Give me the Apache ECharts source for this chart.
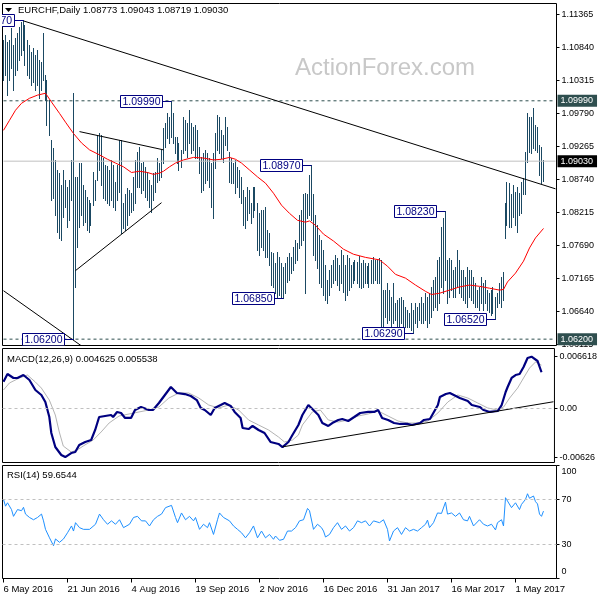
<!DOCTYPE html>
<html><head><meta charset="utf-8">
<script src="https://cdn.jsdelivr.net/npm/echarts@6/dist/echarts.min.js"></script>
<style>html,body{margin:0;padding:0;background:#fff}#c{width:600px;height:600px}</style>
</head><body><div id="c"></div>
<script>
const FONT = '"Liberation Sans", Arial, sans-serif';
// ---- data ----
const high = [
1.1095,1.1103,1.1092,1.1095,1.1114,1.1087,1.1099,1.1106,1.1116,1.1124,
1.1127,1.1119,1.1095,1.1087,1.1076,1.1083,1.1072,1.1080,1.1064,1.1060,
1.1106,1.1040,1.1032,1.1000,1.0936,1.0924,1.0905,1.0889,1.0884,1.0865,
1.0889,1.0873,1.0862,1.0873,1.0905,1.1011,1.0878,1.0878,1.0900,1.0900,
1.0865,1.0857,1.0846,1.0841,1.0836,1.0885,1.0873,1.0944,1.0947,1.0944,
1.0908,1.0897,1.0895,1.0889,1.0905,1.0897,1.0870,1.0897,1.0936,1.0936,
1.0836,1.0850,1.0860,1.0857,1.0852,1.0878,1.0905,1.0917,1.0925,1.0900,
1.0901,1.0894,1.0885,1.0873,1.0865,1.0884,1.0885,1.0908,1.0900,1.0921,
1.0956,1.0963,1.0979,1.0973,1.0999,1.0979,1.0941,1.0941,1.0932,1.0921,
1.0973,1.0968,1.0963,1.0984,1.0963,1.0957,1.0960,1.0952,1.0925,1.0909,
1.0916,1.0921,1.0916,1.0908,1.0900,1.0916,1.0947,1.0976,1.0973,1.0952,
1.0944,1.0973,1.0957,1.0917,1.0908,1.0900,1.0905,1.0894,1.0889,1.0878,
1.0857,1.0846,1.0862,1.0857,1.0836,1.0862,1.0862,1.0836,1.0820,1.0825,
1.0825,1.0830,1.0793,1.0788,1.0758,1.0757,1.0741,1.0758,1.0750,1.0741,
1.0735,1.0741,1.0750,1.0757,1.0750,1.0766,1.0777,1.0773,1.0817,1.0825,
1.0850,1.0852,1.0850,1.0881,1.0897,1.0850,1.0817,1.0801,1.0785,1.0777,
1.0762,1.0738,1.0714,1.0730,1.0738,1.0746,1.0754,1.0749,1.0738,1.0762,
1.0754,1.0738,1.0754,1.0749,1.0738,1.0742,1.0746,1.0742,1.0752,1.0741,
1.0746,1.0741,1.0736,1.0741,1.0746,1.0750,1.0746,1.0746,1.0749,1.0746,
1.0698,1.0698,1.0709,1.0698,1.0687,1.0709,1.0677,1.0682,1.0685,1.0687,
1.0682,1.0671,1.0666,1.0661,1.0677,1.0666,1.0677,1.0671,1.0677,1.0687,
1.0677,1.0693,1.0687,1.0693,1.0703,1.0714,1.0719,1.0746,1.0750,1.0798,
1.0812,1.0823,1.0746,1.0749,1.0746,1.0730,1.0735,1.0762,1.0746,1.0730,
1.0730,1.0719,1.0735,1.0730,1.0730,1.0719,1.0709,1.0698,1.0703,1.0719,
1.0709,1.0714,1.0698,1.0693,1.0698,1.0703,1.0687,1.0693,1.0709,1.0719,
1.0726,1.0836,1.0870,1.0868,1.0850,1.0865,1.0854,1.0862,1.0852,1.0870,
1.0876,1.0917,1.0979,1.0973,1.0973,1.0987,1.0960,1.0957,1.0928,1.0925,1.09043];
const low = [
1.1032,1.1040,1.1008,1.1032,1.1051,1.1016,1.1040,1.1048,1.1064,1.1072,
1.1080,1.1056,1.1040,1.1035,1.1024,1.1029,1.1016,1.1024,1.1003,1.1016,
1.1032,1.1000,1.0960,1.0944,1.0841,1.0844,1.0817,1.0790,1.0781,1.0777,
1.0814,1.0830,1.0798,1.0809,1.0841,1.0620,1.0703,1.0766,1.0798,1.0817,
1.0801,1.0806,1.0793,1.0790,1.0801,1.0833,1.0841,1.0873,1.0889,1.0865,
1.0844,1.0841,1.0836,1.0833,1.0841,1.0830,1.0825,1.0841,1.0854,1.0788,
1.0796,1.0793,1.0801,1.0817,1.0822,1.0825,1.0836,1.0862,1.0862,1.0852,
1.0857,1.0846,1.0841,1.0830,1.0822,1.0841,1.0854,1.0870,1.0873,1.0878,
1.0900,1.0925,1.0940,1.0932,1.0941,1.0932,1.0916,1.0900,1.0889,1.0894,
1.0916,1.0921,1.0909,1.0932,1.0916,1.0921,1.0908,1.0908,1.0884,1.0854,
1.0857,1.0868,1.0873,1.0862,1.0830,1.0812,1.0892,1.0921,1.0916,1.0908,
1.0901,1.0928,1.0921,1.0870,1.0868,1.0868,1.0852,1.0862,1.0846,1.0836,
1.0801,1.0796,1.0809,1.0820,1.0804,1.0814,1.0825,1.0762,1.0754,1.0766,
1.0762,1.0750,1.0750,1.0738,1.0706,1.0703,1.0693,1.0687,1.0690,1.0687,
1.0685,1.0693,1.0711,1.0714,1.0725,1.0730,1.0741,1.0746,1.0765,1.0769,
1.0777,1.0693,1.0812,1.0817,1.0809,1.0754,1.0746,1.0733,1.0709,1.0703,
1.0690,1.0682,1.0677,1.0690,1.0703,1.0709,1.0714,1.0706,1.0698,1.0709,
1.0695,1.0682,1.0690,1.0698,1.0703,1.0709,1.0714,1.0709,1.0703,1.0701,
1.0703,1.0709,1.0709,1.0703,1.0709,1.0709,1.0714,1.0709,1.0709,1.0634,
1.0634,1.0655,1.0645,1.0650,1.0638,1.0645,1.0650,1.0639,1.0634,1.0645,
1.0639,1.0639,1.0639,1.0639,1.0634,1.0629,1.0645,1.0639,1.0650,1.0645,
1.0645,1.0650,1.0639,1.0645,1.0655,1.0666,1.0671,1.0666,1.0677,1.0703,
1.0693,1.0714,1.0677,1.0687,1.0698,1.0687,1.0687,1.0703,1.0693,1.0687,
1.0682,1.0677,1.0671,1.0687,1.0682,1.0677,1.0671,1.0671,1.0666,1.0677,
1.0666,1.0677,1.0666,1.0663,1.0658,1.0661,1.0652,1.0671,1.0677,1.0671,
1.0682,1.0781,1.0801,1.0798,1.0798,1.0814,1.0801,1.0790,1.0817,1.0820,
1.0850,1.0850,1.0901,1.0917,1.0916,1.0924,1.0921,1.0917,1.0881,1.0868,1.08719];
const maLine = [[0,1.0952],[3,1.0968],[6,1.0984],[9,1.0995],[13,1.1003],[17,1.1008],[21,1.1011],[24,1.0997],[28,1.0979],[31,1.0965],[35,1.0947],[39,1.0932],[43,1.0921],[48,1.0913],[52,1.0906],[56,1.0900],[60,1.0894],[64,1.0885],[68,1.0887],[72,1.0885],[75,1.0882],[78,1.0884],[80,1.0887],[83,1.0894],[86,1.0900],[90,1.0905],[95,1.0909],[100,1.0908],[105,1.0905],[109,1.0906],[113,1.0909],[116,1.0906],[119,1.0900],[123,1.0889],[127,1.0878],[131,1.0868],[135,1.0852],[139,1.0833],[143,1.0820],[147,1.0809],[151,1.0806],[153,1.0808],[156,1.0801],[160,1.0787],[165,1.0776],[170,1.0763],[175,1.0755],[181,1.0750],[188,1.0746],[192,1.0736],[196,1.0723],[201,1.0717],[206,1.0706],[211,1.0696],[214,1.0691],[218,1.0693],[223,1.0698],[228,1.0703],[233,1.0706],[238,1.0704],[243,1.0701],[248,1.0698],[250,1.0699],[252,1.0711],[256,1.0725],[260,1.0744],[263,1.0765],[266,1.0781],[270,1.0796]];
const macdMain = [[0,0.00341],[2,0.00440],[5,0.00389],[7,0.00389],[10,0.00427],[13,0.00363],[16,0.00235],[19,0.00171],[21,0.00081],[23,-0.00112],[24,-0.00317],[26,-0.00497],[29,-0.00599],[31,-0.00626],[34,-0.00574],[36,-0.00561],[38,-0.00471],[41,-0.00432],[44,-0.00407],[46,-0.00278],[48,-0.00112],[51,-0.00099],[54,-0.00086],[55,-0.00112],[57,-0.00047],[59,-0.00060],[61,-0.00124],[64,-0.00124],[66,-0.00022],[69,0.00017],[73,-0.00022],[75,-0.00022],[78,0.00068],[81,0.00171],[84,0.00273],[87,0.00196],[91,0.00183],[94,0.00158],[97,0.00106],[99,0.00004],[101,-0.00022],[104,-0.00086],[106,0.00004],[109,0.00042],[111,0.00068],[114,0.00030],[116,-0.00047],[119,-0.00124],[120,-0.00253],[123,-0.00266],[125,-0.00227],[128,-0.00278],[131,-0.00317],[134,-0.00432],[138,-0.00458],[140,-0.00497],[143,-0.00432],[145,-0.00343],[148,-0.00214],[150,-0.00086],[153,0.00042],[155,-0.00009],[158,-0.00086],[160,-0.00189],[163,-0.00227],[165,-0.00189],[168,-0.00150],[170,-0.00137],[173,-0.00163],[176,-0.00112],[179,-0.00060],[183,-0.00047],[186,-0.00047],[188,-0.00022],[190,-0.00124],[193,-0.00150],[196,-0.00189],[199,-0.00201],[203,-0.00201],[205,-0.00214],[209,-0.00189],[211,-0.00150],[214,-0.00137],[216,-0.00047],[218,0.00042],[219,0.00145],[222,0.00183],[224,0.00196],[227,0.00158],[229,0.00132],[233,0.00094],[235,0.00042],[239,0.00017],[241,-0.00022],[244,-0.00047],[248,-0.00035],[250,0.00042],[252,0.00209],[253,0.00273],[255,0.00389],[257,0.00427],[259,0.00440],[261,0.00530],[263,0.00645],[265,0.006618],[266,0.00658],[268,0.00607],[270,0.004625]];
const macdSignal = [[0,0.00235],[3,0.00325],[8,0.00389],[12,0.00427],[16,0.00337],[19,0.00260],[23,0.00106],[26,-0.00086],[28,-0.00304],[30,-0.00484],[34,-0.00561],[37,-0.00535],[40,-0.00484],[45,-0.00407],[49,-0.00304],[53,-0.00189],[58,-0.00099],[63,-0.00073],[68,-0.00047],[73,-0.00022],[78,0.00017],[83,0.00132],[88,0.00196],[93,0.00196],[98,0.00132],[103,0.00042],[108,0.00004],[113,0.00042],[118,-0.00022],[123,-0.00150],[128,-0.00214],[133,-0.00278],[138,-0.00368],[141,-0.00432],[145,-0.00407],[148,-0.00343],[150,-0.00214],[155,-0.00047],[159,-0.00022],[163,-0.00150],[168,-0.00176],[173,-0.00150],[178,-0.00099],[183,-0.00073],[188,-0.00035],[193,-0.00099],[198,-0.00163],[203,-0.00189],[208,-0.00189],[213,-0.00163],[218,-0.00060],[223,0.00081],[228,0.00171],[233,0.00132],[238,0.00068],[243,0.00004],[248,-0.00022],[251,0.00017],[254,0.00132],[258,0.00260],[261,0.00389],[264,0.00517],[267,0.00594],[270,0.005538]];
const rsi = [[0,70],[1,64],[2,67],[4,61],[5,55],[7,61],[9,60],[10,63],[11,57],[13,54],[15,52],[17,54],[19,57],[20,51],[21,43.5],[23,36],[25,29],[26,35],[28,32],[30,35],[32,40.5],[34,46.5],[35,42],[36,49.4],[38,45],[40,43.5],[43,43.5],[46,48],[48,57],[50,52],[52,48],[54,51],[56,48],[58,52],[60,45],[61,46.5],[63,48],[65,54],[67,55],[69,51],[71,51],[73,46.5],[75,52],[77,55],[79,57],[81,62.7],[84,64.7],[86,54],[87,49.4],[89,58],[91,52],[93,55],[95,51],[96,54],[98,43.5],[100,48],[102,45],[103,49.4],[105,39],[107,52],[108,58],[110,54],[111,54],[113,51],[115,46.5],[117,43.5],[119,40.5],[121,36],[123,40.5],[125,46.5],[127,36],[129,42],[131,36],[133,39],[135,34.7],[136,37.6],[138,33.8],[140,34.7],[142,42],[144,42],[146,45],[148,51],[150,52],[152,62],[153,60],[155,43.5],[157,48],[159,45],[160,42],[161,36.7],[163,39],[165,45],[167,49.4],[169,43.5],[171,46.5],[173,42],[175,45],[177,51],[179,49.4],[181,51],[183,46.5],[185,51],[186,52],[188,49.4],[190,52],[192,43.5],[193,33.2],[195,42],[197,45],[199,39],[201,45],[203,42],[205,43.5],[207,42],[209,45],[211,48],[212,51.7],[213,45],[215,49.4],[217,58],[219,57.6],[221,67.6],[222,57],[224,58],[226,55],[228,58],[230,52],[232,51],[233,55],[235,46.5],[236,46.5],[238,52],[240,48],[242,46.5],[244,48],[246,43],[247,49.4],[249,52],[250,46.5],[251,71.5],[252,73],[254,62.7],[256,67],[258,61],[259,65.6],[261,70],[262,75],[263,71],[265,73],[266,68],[267,66],[268,57],[269,55],[270,59.65]];
const priceTicks = [1.11365,1.10840,1.10315,1.09790,1.09265,1.08740,1.08215,1.07690,1.07165,1.06640,1.06115];
const macdTicks = [0.006618, 0, -0.00626];
const rsiTicks = [100, 70, 30, 0];
const dashedLevels = [1.0999, 1.0620];
const currentPrice = 1.0903;
const annotations = [[10,1.1127,'1.11270'],[84,1.0999,'1.09990'],[154,1.0897,'1.08970'],[140,1.0685,'1.06850'],[205,1.0629,'1.06290'],[221,1.0823,'1.08230'],[246,1.0652,'1.06520'],[35,1.0620,'1.06200']];
const priceTrends = [[[10,1.1126],[276,1.0859]], [[0,1.0697],[40,1.0607]], [[38,1.0950],[80,1.0921]], [[36,1.0729],[79,1.0837]]];
const macdTrends = [[[140,-0.00495],[276,0.00084]]];
const titleText = 'EURCHF,Daily 1.08773 1.09043 1.08719 1.09030';
const macdTitle = 'MACD(12,26,9) 0.004625 0.005538';
const rsiTitle = 'RSI(14) 59.6544';
const watermark = 'ActionForex.com';
const NCAT = 277;
const MONTHS = ['Jan','Feb','Mar','Apr','May','Jun','Jul','Aug','Sep','Oct','Nov','Dec'];
const categories = [];
(function(){ const d = new Date(Date.UTC(2016,4,6)); while (categories.length < NCAT) { const w = d.getUTCDay(); if (w !== 0 && w !== 6) categories.push(d.getUTCDate()+' '+MONTHS[d.getUTCMonth()]+' '+d.getUTCFullYear()); d.setUTCDate(d.getUTCDate()+1); } })();

// ---- chart ----
const chart = echarts.init(document.getElementById('c'), null, {renderer:'canvas'});
const BAR = '#1b4963';
const G = [
  {left:2.5, top:3.5, width:554, height:342},
  {left:2.5, top:348.5, width:554, height:114},
  {left:2.5, top:465.5, width:554, height:113}
];
function trendSeries(lines, gi){
  return lines.map(l => ({type:'line', xAxisIndex:gi, yAxisIndex:gi, data:l, symbol:'none', silent:true, z:4,
    lineStyle:{color:'#000', width:1}, clip:true}));
}
function levelSeries(v, color, dash, bg){
  return {type:'line', xAxisIndex:0, yAxisIndex:0, data:[[0,v],[NCAT-1,v]], symbol:'none', silent:true, z:3, clip:false,
    lineStyle:{color:color, width:1, type:dash},
    endLabel:{show:true, distance:2, formatter:()=>v.toFixed(5), color:'#fff', backgroundColor:bg, padding:[2,4,1,3], fontSize:9, fontFamily:FONT}};
}
const option = {
  animation:false,
  backgroundColor:'#fff',
  textStyle:{fontFamily:FONT},
  grid: G.map(g => Object.assign({show:true, borderColor:'#000', borderWidth:1, backgroundColor:'#fff', containLabel:false}, g)),
  xAxis: [0,1,2].map(g => ({
    type:'category', gridIndex:g, data:categories, boundaryGap:true,
    axisLine:{show:false},
    axisTick: g===2 ? {show:true, interval:31, alignWithLabel:true, length:4, lineStyle:{color:'#000'}} : {show:false},
    axisLabel: g===2 ? {show:true, interval:31, align:'left', margin:6, fontSize:9.5, color:'#000', fontFamily:FONT} : {show:false},
    splitLine:{show:false}
  })),
  yAxis: [
    {type:'value', gridIndex:0, position:'right', min:1.06099, max:1.11537, splitLine:{show:false},
     axisLine:{show:false}, axisTick:{show:true, customValues:priceTicks, length:3, lineStyle:{color:'#000'}},
     axisLabel:{customValues:priceTicks, formatter:v=>v.toFixed(5), fontSize:9, color:'#000', margin:5, fontFamily:FONT}},
    {type:'value', gridIndex:1, position:'right', min:-0.006954, max:0.007672, splitLine:{show:false},
     axisLine:{show:false}, axisTick:{show:true, customValues:macdTicks, length:3, lineStyle:{color:'#000'}},
     axisLabel:{customValues:macdTicks, formatter:v=> v===0 ? '0.00' : String(v), fontSize:9, color:'#000', margin:5, fontFamily:FONT}},
    {type:'value', gridIndex:2, position:'right', min:0, max:100, splitLine:{show:false},
     axisLine:{show:false}, axisTick:{show:true, customValues:rsiTicks, length:3, lineStyle:{color:'#000'}},
     axisLabel:{customValues:rsiTicks, fontSize:9, color:'#000', margin:5, fontFamily:FONT,
       formatter:v=> v===100 ? '{t|100}' : (v===0 ? '{b|0}' : String(v)),
       rich:{t:{padding:[13,0,0,0], fontSize:9, fontFamily:FONT}, b:{padding:[0,0,13,0], fontSize:9, fontFamily:FONT}}}}
  ],
  series: [
    {type:'custom', xAxisIndex:0, yAxisIndex:0, z:2, silent:true,
     data: high.map((h,i)=>[i,h,low[i]]),
     encode:{x:0, y:[1,2]},
     renderItem:function(params, api){
       const a = api.coord([api.value(0), api.value(1)]);
       const b = api.coord([api.value(0), api.value(2)]);
       const x = Math.round(a[0]) - 0.5;
       return {type:'line', shape:{x1:x, y1:Math.round(a[1]), x2:x, y2:Math.round(b[1])+1}, style:{stroke:BAR, lineWidth:1}};
     }},
    levelSeries(dashedLevels[0], '#2f4f4f', [3,3], '#2f4f4f'),
    levelSeries(dashedLevels[1], '#2f4f4f', [3,3], '#2f4f4f'),
    levelSeries(currentPrice, '#c0c0c0', 'solid', '#000'),
    {type:'line', xAxisIndex:0, yAxisIndex:0, data:maLine, symbol:'none', silent:true, z:3,
     lineStyle:{color:'#ff0000', width:1}},
    ...trendSeries(priceTrends, 0),
    {type:'custom', xAxisIndex:0, yAxisIndex:0, z:5, silent:true, clip:true,
     data: annotations.map(a=>[a[0], a[1]]),
     renderItem:function(params, api){
       const p = api.coord([api.value(0), api.value(1)]);
       const x = Math.round(p[0]) - 0.5;
       const y = Math.round(p[1]) + 0.5;
       const w = 42, h = 12, gap = 10;
       const bx = Math.round(x - gap - w) + 0.5;
       return {type:'group', children:[
         {type:'line', shape:{x1:bx+w, y1:y, x2:x, y2:y}, style:{stroke:'#000080', lineWidth:1}},
         {type:'rect', shape:{x:bx, y:y-h/2, width:w, height:h}, style:{fill:'#fff', stroke:'#000080', lineWidth:1}},
         {type:'text', style:{text:annotations[params.dataIndex][2], x:bx+w/2, y:y+0.5, align:'center', verticalAlign:'middle', fill:'#000080', font:'10.5px '+FONT}}
       ]};
     }},
    {type:'line', xAxisIndex:1, yAxisIndex:1, data:macdSignal, symbol:'none', silent:true, z:3,
     lineStyle:{color:'#b4b4b4', width:1},
     markLine:{silent:true, symbol:['none','none'], label:{show:false}, data:[{yAxis:0, lineStyle:{color:'#c0c0c0', type:[3,3], width:1}}]}},
    {type:'line', xAxisIndex:1, yAxisIndex:1, data:macdMain, symbol:'none', silent:true, z:4,
     lineStyle:{color:'#000080', width:2.2}},
    ...trendSeries(macdTrends, 1),
    {type:'line', xAxisIndex:2, yAxisIndex:2, data:rsi, symbol:'none', silent:true, z:3,
     lineStyle:{color:'#1e90ff', width:1},
     markLine:{silent:true, symbol:['none','none'], label:{show:false},
       data:[{yAxis:70, lineStyle:{color:'#c0c0c0', type:[3,3], width:1}},{yAxis:30, lineStyle:{color:'#c0c0c0', type:[3,3], width:1}}]}}
  ],
  graphic: [
    {type:'text', x:295, y:68, z:1, silent:true, style:{text:watermark, font:'24px '+FONT, fill:'#c8c8c8', verticalAlign:'middle'}},
    {type:'polygon', z:10, silent:true, shape:{points:[[5,8],[12,8],[8.5,12]]}, style:{fill:'#000'}},
    {type:'text', x:18, y:10.5, z:10, silent:true, style:{text:titleText, font:'9.5px '+FONT, fill:'#000', verticalAlign:'middle'}},
    {type:'text', x:7, y:359, z:10, silent:true, style:{text:macdTitle, font:'9.5px '+FONT, fill:'#000', verticalAlign:'middle'}},
    {type:'text', x:7, y:475, z:10, silent:true, style:{text:rsiTitle, font:'9.5px '+FONT, fill:'#000', verticalAlign:'middle'}}
  ]
};
chart.setOption(option);
</script>
</body></html>
